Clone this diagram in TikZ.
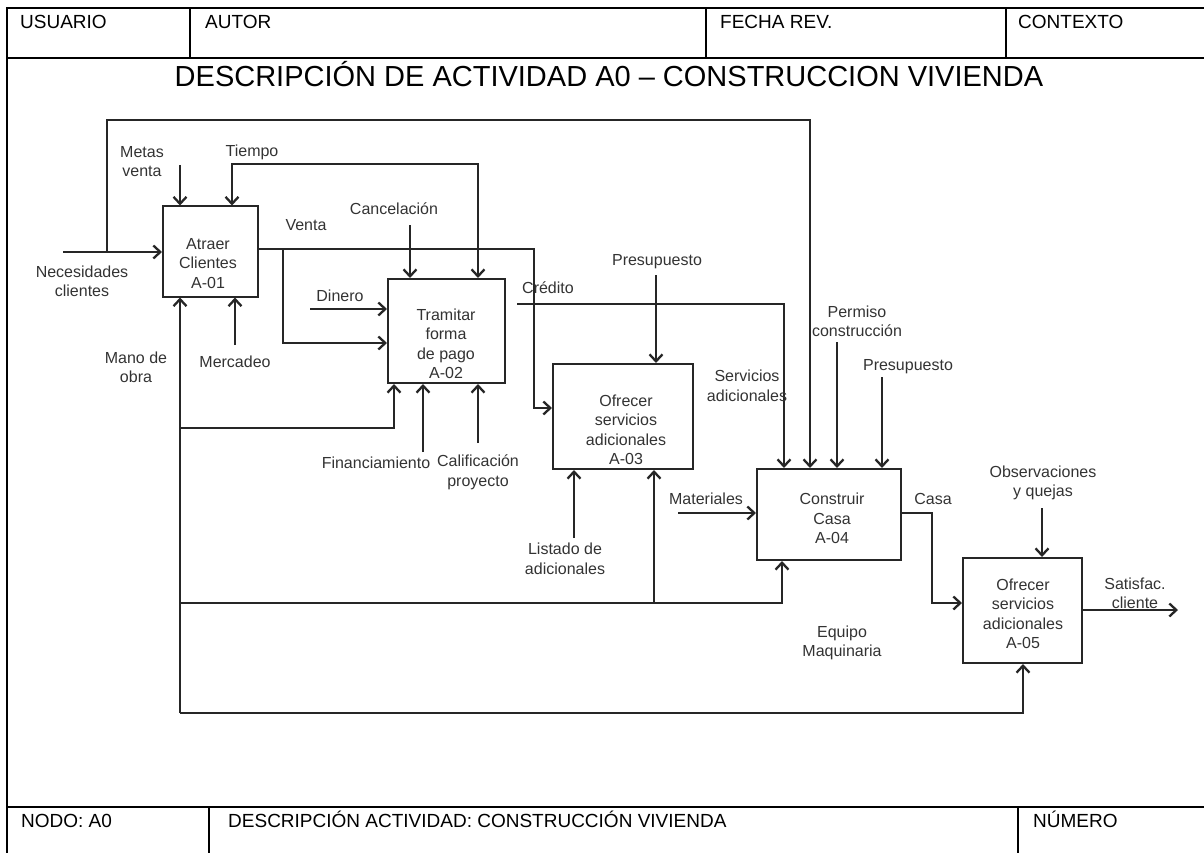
\documentclass[tikz,border=0pt]{standalone}
\usepackage{fontspec}
\setmainfont{Liberation Sans}
\usetikzlibrary{arrows.meta}

\definecolor{linegray}{HTML}{262626}
\definecolor{txtgray}{HTML}{333333}

\begin{document}
\begin{tikzpicture}[x=1pt,y=-1pt,
  frameline/.style={draw=black, line width=2.6pt},
  flow/.style={draw=linegray, line width=2pt, line join=miter},
  barb/.tip={Straight Barb[length=7pt,width=13pt,line width=2.3pt]},
  arr/.style={flow, -barb},
  box/.style={draw=linegray, line width=2pt, rectangle, inner sep=0pt, fill=white},
  boxtext/.style={align=center, inner sep=0pt, text=txtgray, font=\fontsize{16}{19.5}\selectfont},
  lbl/.style={align=center, inner sep=0pt, text=txtgray, font=\fontsize{16}{19.5}\selectfont},
  headtxt/.style={anchor=base west, inner sep=0pt, font=\fontsize{19}{22}\selectfont},
  titletxt/.style={anchor=base, inner sep=0pt, font=\fontsize{29}{34}\selectfont}]

\path[use as bounding box] (0,0) rectangle (1204,853);

% ---- form frame ----
\draw[frameline] (7,853) -- (7,8) -- (1204,8);
\draw[frameline] (7,58) -- (1204,58);
\draw[frameline] (190,8) -- (190,58);
\draw[frameline] (706,8) -- (706,58);
\draw[frameline] (1006,8) -- (1006,58);
\draw[frameline] (7,807) -- (1204,807);
\draw[frameline] (209,807) -- (209,853);
\draw[frameline] (1018,807) -- (1018,853);

\node[headtxt] (hUsuario) at (20,29) {USUARIO};
\node[headtxt] (hAutor) at (205,29) {AUTOR};
\node[headtxt] (hFecha) at (720,29) {FECHA REV.};
\node[headtxt] (hContexto) at (1018,29) {CONTEXTO};
\node[titletxt] (title) at (609,87) {DESCRIPCIÓN DE ACTIVIDAD A0 – CONSTRUCCION VIVIENDA};
\node[headtxt] (fNodo) at (21,827) {NODO: A0};
\node[headtxt] (fDesc) at (228,827) {DESCRIPCIÓN ACTIVIDAD: CONSTRUCCIÓN VIVIENDA};
\node[headtxt] (fNum) at (1033,827) {NÚMERO};

% ---- activity boxes ----
\node[box, minimum width=95pt, minimum height=90pt] (a1) at (210.5,251.5) {};
\node[box, minimum width=117pt, minimum height=104pt] (a2) at (446.5,331) {};
\node[box, minimum width=140pt, minimum height=105pt] (a3) at (623,416.5) {};
\node[box, minimum width=144pt, minimum height=91pt] (a4) at (829,514.5) {};
\node[box, minimum width=119pt, minimum height=105pt] (a5) at (1022.5,610.5) {};

\node[boxtext] (t1) at (208,263.5) {Atraer\\Clientes\\A-01};
\node[boxtext] (t2) at (446,344) {Tramitar\\forma\\de pago\\A-02};
\node[boxtext] (t3) at (626,430) {Ofrecer\\servicios\\adicionales\\A-03};
\node[boxtext] (t4) at (832,518.5) {Construir\\Casa\\A-04};
\node[boxtext] (t5) at (1023,614) {Ofrecer\\servicios\\adicionales\\A-05};

% ---- connector end points ----
\coordinate (nec) at (63,252);
\coordinate (lp) at (107,252);
\coordinate (lpx) at (810,120);
\coordinate (metas) at (180,165);
\coordinate (tl) at (232,164);
\coordinate (tr) at (478,164);
\coordinate (vj) at (283,249);
\coordinate (vc) at (534,249);
\coordinate (vin) at (534,408);
\coordinate (vb) at (283,343);
\coordinate (canc) at (410,225);
\coordinate (din) at (310,309);
\coordinate (merc) at (235,345);
\coordinate (mo) at (180,713);
\coordinate (mo2) at (180,428);
\coordinate (mo2b) at (394,428);
\coordinate (mo4) at (180,603);
\coordinate (mo4b) at (782,603);
\coordinate (mo3) at (654,603);
\coordinate (mo5b) at (1023,713);
\coordinate (fin) at (423,452);
\coordinate (cal) at (478,443);
\coordinate (cre) at (517,304);
\coordinate (crec) at (784,304);
\coordinate (pre1) at (656,275);
\coordinate (perm) at (837,342);
\coordinate (pre2) at (882,377);
\coordinate (list) at (574,538);
\coordinate (mat) at (678,513);
\coordinate (casa) at (932,513);
\coordinate (casab) at (932,603);
\coordinate (obs) at (1042,508);
\coordinate (sat) at (1178,610);

% ---- connectors ----
\draw[arr] (nec) -- (a1.west |- nec);
\draw[arr] (lp) |- (lpx) -- (a4.north -| lpx);
\draw[arr] (metas) -- (a1.north -| metas);
\draw[flow, barb-barb] (a1.north -| tl) -- (tl) -- (tr) -- (a2.north -| tr);
\draw[arr] (a1.east |- vc) -- (vc) -- (vin) -- (a3.west |- vin);
\draw[arr] (vj) -- (vb) -- (a2.west |- vb);
\draw[arr] (canc) -- (a2.north -| canc);
\draw[arr] (din) -- (a2.west |- din);
\draw[arr] (merc) -- (a1.south -| merc);
\draw[arr] (mo) -- (a1.south -| mo);
\draw[arr] (mo2) -- (mo2b) -- (a2.south -| mo2b);
\draw[arr] (mo4) -- (mo4b) -- (a4.south -| mo4b);
\draw[arr] (mo3) -- (a3.south -| mo3);
\draw[arr] (mo) -- (mo5b) -- (a5.south -| mo5b);
\draw[arr] (fin) -- (a2.south -| fin);
\draw[arr] (cal) -- (a2.south -| cal);
\draw[arr] (cre) -- (crec) -- (a4.north -| crec);
\draw[arr] (pre1) -- (a3.north -| pre1);
\draw[arr] (perm) -- (a4.north -| perm);
\draw[arr] (pre2) -- (a4.north -| pre2);
\draw[arr] (list) -- (a3.south -| list);
\draw[arr] (mat) -- (a4.west |- mat);
\draw[arr] (a4.east |- casa) -- (casa) -- (casab) -- (a5.west |- casab);
\draw[arr] (obs) -- (a5.north -| obs);
\draw[arr] (a5.east |- sat) -- (sat);

% ---- labels ----
\node[lbl] (lNec) at (82,281.5) {Necesidades\\clientes};
\node[lbl] (lMetas) at (142,161.5) {Metas\\venta};
\node[lbl] (lTiempo) at (252,152) {Tiempo};
\node[lbl] (lVenta) at (306,225) {Venta};
\node[lbl] (lCanc) at (394,209) {Cancelación};
\node[lbl] (lDin) at (340,296) {Dinero};
\node[lbl] (lMerc) at (235,362) {Mercadeo};
\node[lbl] (lMano) at (136,367.5) {Mano de\\obra};
\node[lbl] (lFin) at (376,463) {Financiamiento};
\node[lbl] (lCal) at (478,472.5) {Calificación\\proyecto};
\node[lbl] (lCre) at (548,288) {Crédito};
\node[lbl] (lPre1) at (657,262) {Presupuesto};
\node[lbl] (lServ) at (747,386) {Servicios\\adicionales};
\node[lbl] (lPerm) at (857,321.5) {Permiso\\construcción};
\node[lbl] (lPre2) at (908,367) {Presupuesto};
\node[lbl] (lList) at (565,559) {Listado de\\adicionales};
\node[lbl] (lMat) at (706,499) {Materiales};
\node[lbl] (lCasa) at (933,499) {Casa};
\node[lbl] (lObs) at (1043,483) {Observaciones\\y quejas};
\node[lbl] (lSat) at (1135,593.5) {Satisfac.\\cliente};
\node[lbl] (lEq) at (842,643) {Equipo\\Maquinaria};
\end{tikzpicture}
\end{document}
